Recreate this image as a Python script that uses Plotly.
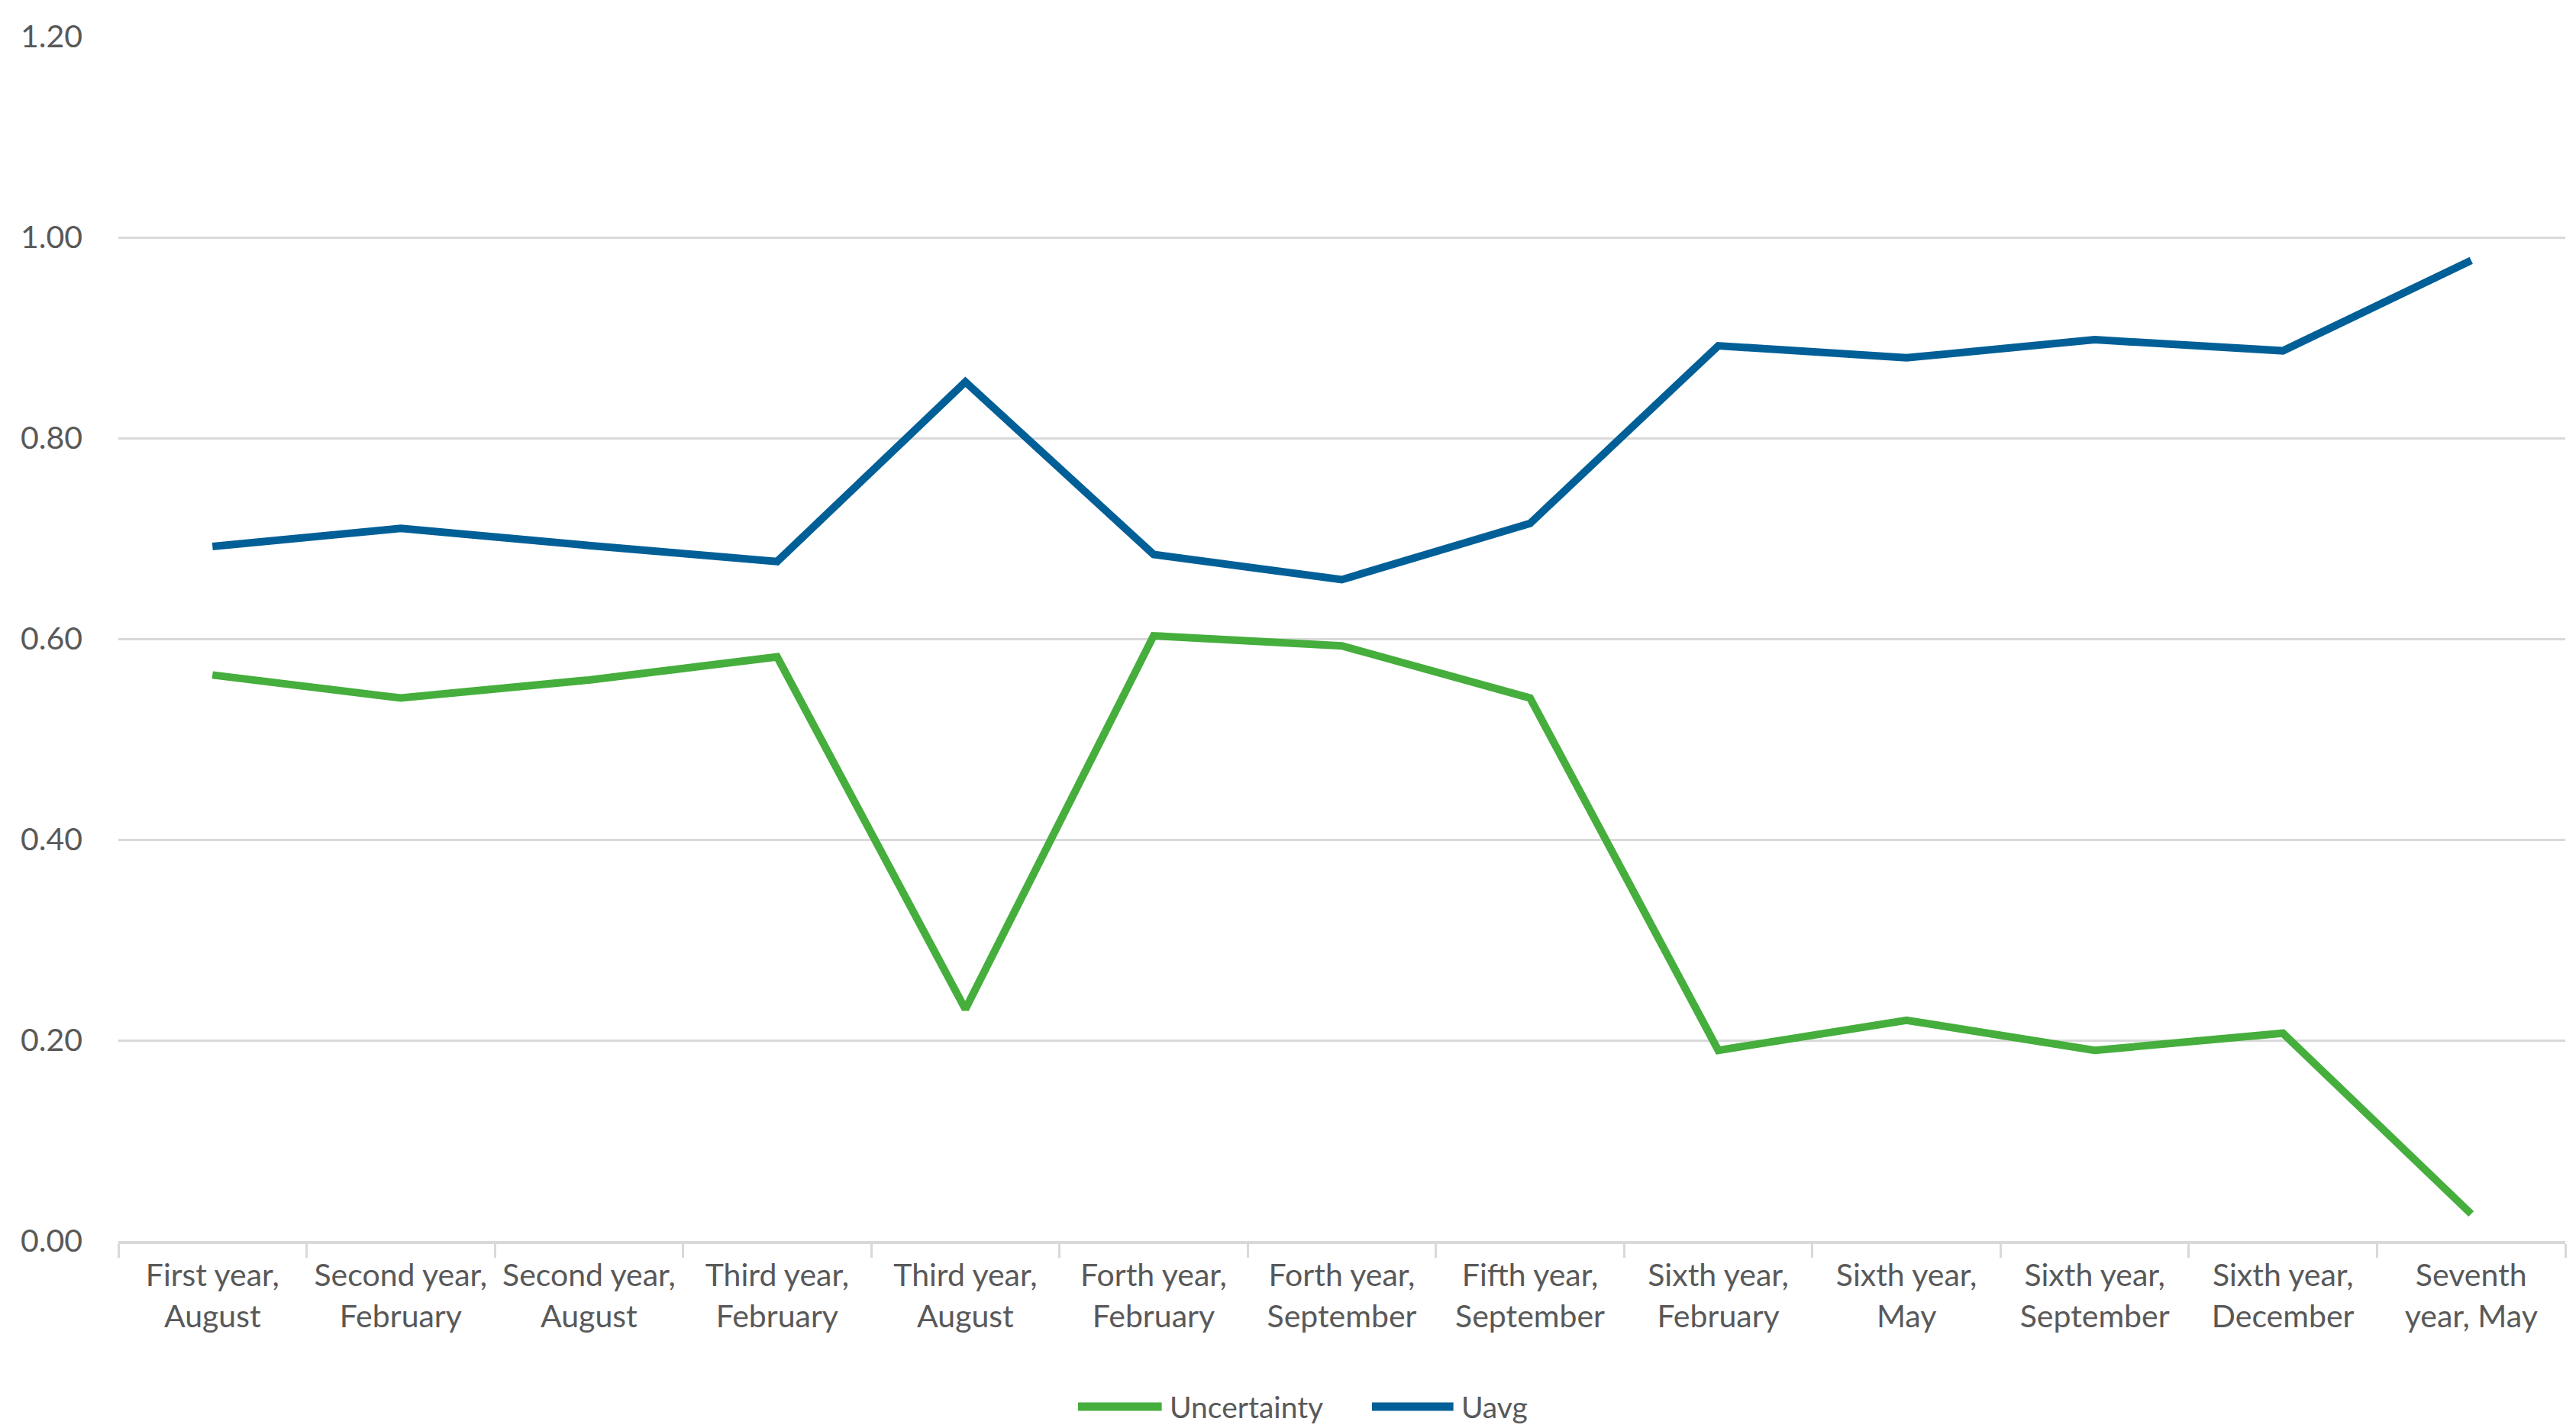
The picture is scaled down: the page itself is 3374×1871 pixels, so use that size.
import plotly.graph_objects as go

categories = [
    "First year,<br>August", "Second year,<br>February", "Second year,<br>August",
    "Third year,<br>February", "Third year,<br>August", "Forth year,<br>February",
    "Forth year,<br>September", "Fifth year,<br>September", "Sixth year,<br>February",
    "Sixth year,<br>May", "Sixth year,<br>September", "Sixth year,<br>December",
    "Seventh<br>year, May",
]
uncertainty = [0.564, 0.541, 0.559, 0.582, 0.231, 0.603, 0.593, 0.541, 0.190, 0.220, 0.190, 0.207, 0.027]
uavg = [0.692, 0.710, 0.693, 0.677, 0.856, 0.684, 0.659, 0.715, 0.892, 0.880, 0.898, 0.887, 0.977]
series_names = ["Uncertainty", "Uavg"]
series_colors = ["#45AE3C", "#005F96"]

FONT = "Lato"
TXT = "#595959"
GRID = "#d9d9d9"

fig = go.Figure()
for name, vals, col in zip(series_names, [uncertainty, uavg], series_colors):
    fig.add_trace(go.Scatter(x=categories, y=vals, mode="lines", name=name,
                             line=dict(color=col, width=10), showlegend=False))

# Excel-style legend: long line samples followed by the series name
legend_y = -0.1375
legend_items = [(0.3922, 0.4264, 0.4289), (0.5123, 0.5456, 0.5481)]
for (x0, x1, xt), name, col in zip(legend_items, series_names, series_colors):
    fig.add_shape(type="line", xref="paper", yref="paper", x0=x0, x1=x1, y0=legend_y, y1=legend_y,
                  line=dict(color=col, width=11))
    fig.add_annotation(xref="paper", yref="paper", x=xt, y=legend_y, text=name, showarrow=False,
                       xanchor="left", yanchor="middle", font=dict(family=FONT, size=39, color=TXT))

fig.update_layout(
    width=3374, height=1871,
    margin=dict(l=147, r=22, t=40, b=253),
    paper_bgcolor="white", plot_bgcolor="white",
    font=dict(family=FONT, size=42, color=TXT),
    showlegend=False,
)
fig.update_xaxes(
    type="category", showgrid=False, showline=True, linecolor=GRID, linewidth=4,
    ticks="outside", tickson="boundaries", ticklen=18, tickcolor=GRID, tickwidth=3,
    tickfont=dict(size=41, color=TXT, family=FONT), range=[-0.5, len(categories) - 0.5],
    ticklabelstandoff=6,
)
fig.update_yaxes(
    range=[0, 1.2], dtick=0.2, tickformat=".2f", showgrid=True, gridcolor=GRID, gridwidth=3,
    zeroline=False, showline=False, ticks="", tickfont=dict(size=41, color=TXT, family=FONT),
    ticklabelstandoff=46,
)

fig.write_html("out.html")
